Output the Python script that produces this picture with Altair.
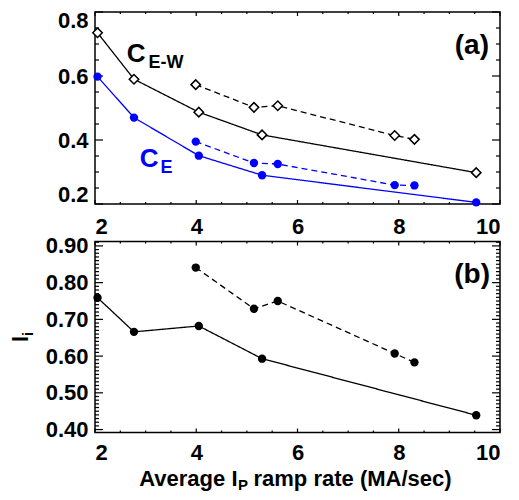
import altair as alt
import pandas as pd

FONT = "Liberation Sans"
W = 405
H1 = 192
H2 = 191

# ---- data ----
xs_solid = [2.05, 2.77, 4.05, 5.30, 9.53]
xs_dashed = [3.99, 5.14, 5.61, 7.92, 8.31]
cew_solid = [0.735, 0.590, 0.487, 0.416, 0.298]
cew_dashed = [0.573, 0.502, 0.507, 0.414, 0.402]
ce_solid = [0.598, 0.470, 0.351, 0.290, 0.205]
ce_dashed = [0.395, 0.328, 0.325, 0.259, 0.258]
li_solid = [0.759, 0.666, 0.682, 0.593, 0.439]
li_dashed = [0.841, 0.729, 0.750, 0.607, 0.583]

x_ticks = [2, 4, 6, 8, 10]
x_minor = [2.5, 3, 3.5, 4.5, 5, 5.5, 6.5, 7, 7.5, 8.5, 9, 9.5]
y1_ticks = [0.2, 0.4, 0.6, 0.8]
y1_minor = [0.25, 0.3, 0.35, 0.45, 0.5, 0.55, 0.65, 0.7, 0.75]
y2_ticks = [0.4, 0.5, 0.6, 0.7, 0.8, 0.9]
y2_minor = [0.41, 0.42, 0.43, 0.44, 0.45, 0.46, 0.47, 0.48, 0.49,
            0.51, 0.52, 0.53, 0.54, 0.55, 0.56, 0.57, 0.58, 0.59,
            0.61, 0.62, 0.63, 0.64, 0.65, 0.66, 0.67, 0.68, 0.69,
            0.71, 0.72, 0.73, 0.74, 0.75, 0.76, 0.77, 0.78, 0.79,
            0.81, 0.82, 0.83, 0.84, 0.85, 0.86, 0.87, 0.88, 0.89,
            0.91]

BLUE = "#0000ff"

xscale = alt.Scale(domain=[2, 10], nice=False, zero=False)
y1scale = alt.Scale(domain=[0.2, 0.8], nice=False, zero=False)
y2scale = alt.Scale(domain=[0.392, 0.912], nice=False, zero=False)

lab = dict(labelFont=FONT, labelFontSize=22, labelFontWeight="bold",
           labelColor="black", ticks=False, tickSize=0, domain=False,
           grid=False, title=None)

xaxis1 = alt.Axis(values=x_ticks, format="d", labelPadding=12.5, **lab)
xaxis2 = alt.Axis(values=x_ticks, format="d", labelPadding=10, **lab)
yaxis1 = alt.Axis(values=y1_ticks, format=".1f", labelPadding=7,
                  labelFlush=True, labelFlushOffset=2, **lab)
yaxis2 = alt.Axis(values=y2_ticks, format=".2f", labelPadding=7, **lab)


def series(xs, ys, yscale, xaxis, yaxis, color, dashed, diamond):
    df = pd.DataFrame({"x": xs, "y": ys})
    base = alt.Chart(df).encode(
        x=alt.X("x:Q", scale=xscale, axis=xaxis),
        y=alt.Y("y:Q", scale=yscale, axis=yaxis),
    )
    line = base.mark_line(color=color, strokeWidth=1.3,
                          strokeDash=[6, 4] if dashed else [1, 0])
    if diamond:
        pts = base.mark_point(shape="diamond", filled=True, fill="white",
                              stroke="black", strokeWidth=1.5, size=90,
                              opacity=1)
    else:
        pts = base.mark_circle(color=color, size=70, opacity=1)
    return [line, pts]


def yticks(vals, yscale, yaxis, length):
    df = pd.DataFrame({"v": vals})
    left = alt.Chart(df).mark_rule(color="black", strokeWidth=1.2).encode(
        y=alt.Y("v:Q", scale=yscale, axis=yaxis),
        x=alt.value(0), x2=alt.value(length))
    right = alt.Chart(df).mark_rule(color="black", strokeWidth=1.2).encode(
        y=alt.Y("v:Q", scale=yscale, axis=yaxis),
        x=alt.value(W - length), x2=alt.value(W))
    return [left, right]


def xticks(vals, xaxis, length, h):
    df = pd.DataFrame({"v": vals})
    bot = alt.Chart(df).mark_rule(color="black", strokeWidth=1.2).encode(
        x=alt.X("v:Q", scale=xscale, axis=xaxis),
        y=alt.value(h - length), y2=alt.value(h))
    top = alt.Chart(df).mark_rule(color="black", strokeWidth=1.2).encode(
        x=alt.X("v:Q", scale=xscale, axis=xaxis),
        y=alt.value(0), y2=alt.value(length))
    return [bot, top]


def label(text, x, y, size, color="black", align="left", angle=0):
    kw = dict(font=FONT, fontSize=size, fontWeight="bold", color=color,
              align=align, baseline="alphabetic")
    if angle:
        kw["angle"] = angle
    return alt.Chart(pd.DataFrame({"t": [text]})).mark_text(**kw).encode(
        text="t:N", x=alt.value(x), y=alt.value(y))


# ---- panel (a) ----
layers_a = []
layers_a += yticks(y1_ticks, y1scale, yaxis1, 8)
layers_a += yticks(y1_minor, y1scale, yaxis1, 4)
layers_a += xticks(x_ticks, xaxis1, 4, H1)
layers_a += xticks(x_minor, xaxis1, 2, H1)
layers_a += series(xs_solid, cew_solid, y1scale, xaxis1, yaxis1, "black", False, True)
layers_a += series(xs_dashed, cew_dashed, y1scale, xaxis1, yaxis1, "black", True, True)
layers_a += series(xs_solid, ce_solid, y1scale, xaxis1, yaxis1, BLUE, False, False)
layers_a += series(xs_dashed, ce_dashed, y1scale, xaxis1, yaxis1, BLUE, True, False)
layers_a += [
    label("C", 31.8, 50.3, 26),
    label("E-W", 53.6, 55.6, 18),
    label("C", 44.7, 154.6, 26, BLUE),
    label("E", 65.5, 160.5, 18, BLUE),
    label("(a)", 394, 41.7, 28, align="right"),
]
panel_a = alt.layer(*layers_a).properties(width=W, height=H1)

# ---- panel (b) ----
layers_b = []
layers_b += yticks(y2_ticks, y2scale, yaxis2, 8)
layers_b += yticks(y2_minor, y2scale, yaxis2, 4)
layers_b += xticks(x_ticks, xaxis2, 4, H2)
layers_b += xticks(x_minor, xaxis2, 2, H2)
layers_b += series(xs_solid, li_solid, y2scale, xaxis2, yaxis2, "black", False, False)
layers_b += series(xs_dashed, li_dashed, y2scale, xaxis2, yaxis2, "black", True, False)
layers_b += [
    label("(b)", 395, 41.4, 28, align="right"),
    label("Average I", 142.5, H2 + 53, 22, align="right"),
    label("P", 143, H2 + 57, 15),
    label("ramp rate (MA/sec)", 158.5, H2 + 53, 22),
    label("l", -67, 97.5, 22, align="center", angle=270),
    label("i", -62, 92.5, 15, align="center", angle=270),
]
panel_b = alt.layer(*layers_b).properties(width=W, height=H2)

chart = alt.vconcat(panel_a, panel_b, spacing=37.5, bounds="flush").properties(
    padding={"left": 1, "top": 0, "right": 0, "bottom": 0}
).configure_view(stroke="black", strokeWidth=1.5)

chart.save("out.html", embed_options={"renderer": "svg", "actions": False})
